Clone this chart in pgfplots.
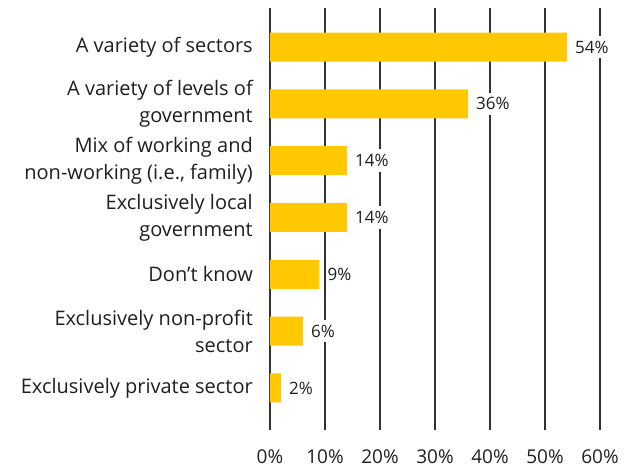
\documentclass[border=0pt]{standalone}
\usepackage{fontspec}
\setmainfont{Open Sans}
\usepackage{pgfplots}
\pgfplotsset{compat=1.18}
\definecolor{baryellow}{RGB}{255,200,0}
\definecolor{gridgray}{RGB}{50,50,50}
\begin{document}
\begin{tikzpicture}
\begin{axis}[
  at={(0,0)}, anchor=south west,
  scale only axis,
  width=330pt, height=422pt,
  xbar, bar width=29pt,
  xmin=0, xmax=60,
  ymin=-0.687, ymax=6.74,
  y dir=reverse,
  axis line style={draw=none},
  xmajorgrids,
  grid style={gridgray, line width=1.1pt},
  major tick length=0pt,
  xtick={0,10,...,60},
  xticklabels={0\%,10\%,20\%,30\%,40\%,50\%,60\%},
  ytick={0,...,6},
  yticklabels={
    A variety of sectors,
    {A variety of levels of\\government},
    {Mix of working and\\non-working (i.e., family)},
    {Exclusively local\\government},
    Don’t know,
    {Exclusively non-profit\\sector},
    Exclusively private sector},
  /pgf/number format/assume math mode=true,
  every tick label/.append style={text=black!88},
  y tick label style={font=\fontsize{20}{27}\selectfont, align=right, inner sep=0pt, xshift=-17pt},
  x tick label style={font=\fontsize{19}{24}\selectfont, inner sep=0pt, yshift=-20pt},
  nodes near coords={\pgfmathprintnumber{\pgfplotspointmeta}\%},
  every node near coord/.append style={font=\fontsize{17}{20}\selectfont, text=black!88,
    fill=white, inner xsep=1pt, inner ysep=5pt, xshift=7pt},
]
\addplot[fill=baryellow, draw=none] coordinates {
  (54,0) (36,1) (14,2) (14,3) (9,4) (6,5) (2,6)
};
\end{axis}
\pgfresetboundingbox
\useasboundingbox (-270pt,-38pt) rectangle (369pt,430pt);
\end{tikzpicture}
\end{document}
